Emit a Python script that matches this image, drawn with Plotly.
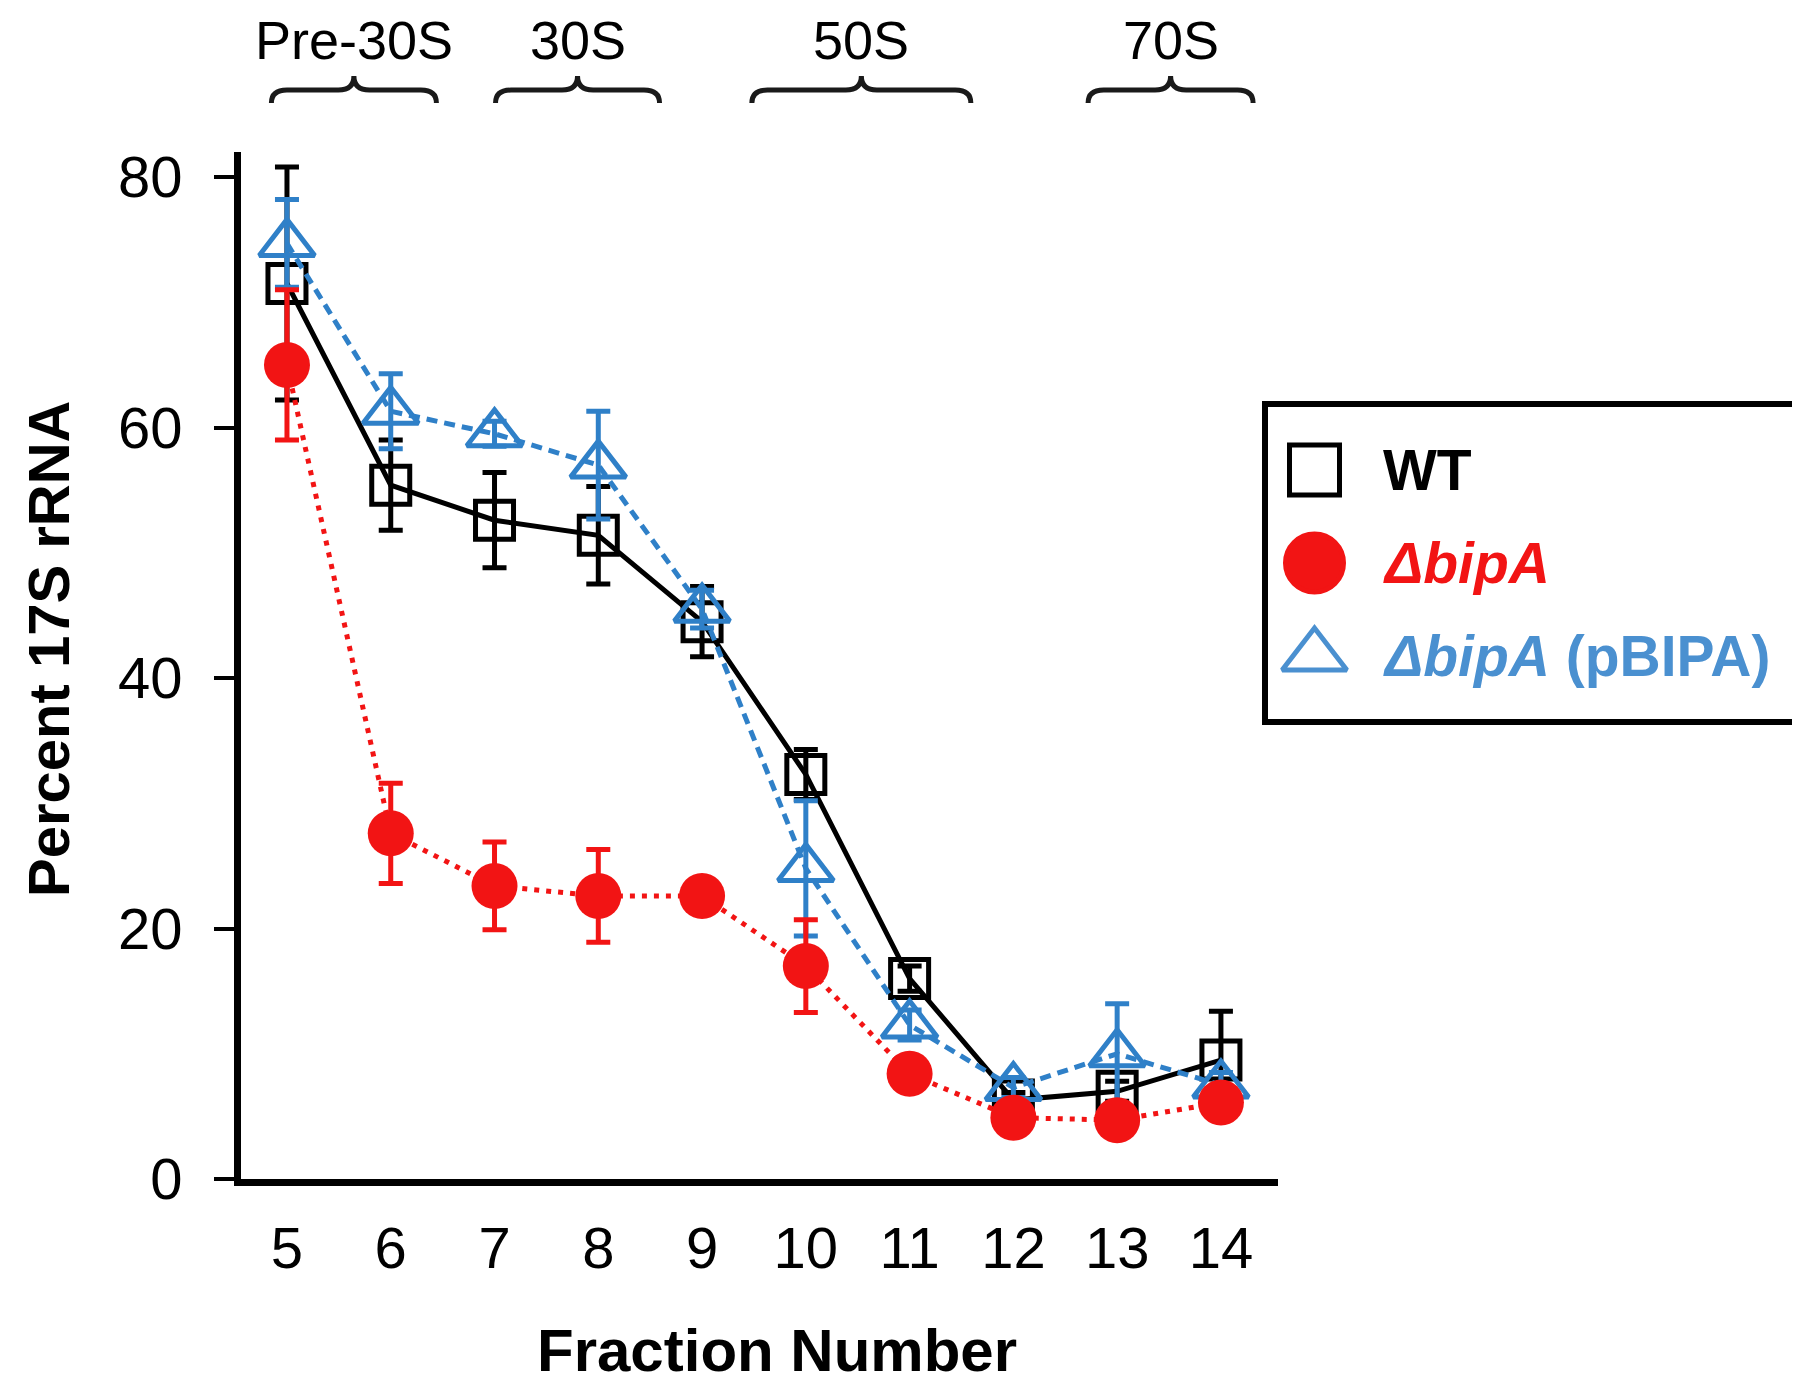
import plotly.graph_objects as go

# fractions on the x axis
fractions = [5, 6, 7, 8, 9, 10, 11, 12, 13, 14]

# percent 17S rRNA per fraction (mean, sd)
wt_vals = [71.5, 55.4, 52.6, 51.4, 44.5, 32.3, 16.0, 6.3, 7.0, 9.5]
wt_err = [9.3, 3.6, 3.8, 3.9, 2.8, 2.0, 1.0, 0.6, 0.8, 3.9]

bipa_vals = [65.0, 27.6, 23.4, 22.6, 22.6, 17.0, 8.4, 4.9, 4.7, 6.1]
bipa_err = [6.0, 4.0, 3.5, 3.7, 0.8, 3.7, 0.9, 0.8, 0.9, 1.0]

pbipa_vals = [74.7, 61.3, 59.5, 57.0, 45.5, 24.8, 12.3, 7.3, 10.0, 7.5]
pbipa_err = [3.5, 3.0, 1.0, 4.3, 1.5, 5.4, 1.2, 0.8, 4.0, 1.0]

# sucrose-gradient regions and the fraction span each brace covers
regions = ["Pre-30S", "30S", "50S", "70S"]
region_start = [4.85, 7.01, 9.48, 12.72]
region_end = [6.44, 8.59, 11.59, 14.31]

y_ticks = [0, 20, 40, 60, 80]

_BLACK = "#000000"
_RED = "#f21414"
_BLUE = "#2f80c8"
_BLUE_TXT = "#4a90d0"
_FONT = "Arial, Liberation Sans, sans-serif"

# targets are given in screenshot pixels; the page adds a vertical offset
OFF_X, OFF_Y = 0, 8
W, H = 1800, 1381
L, R, T, B = 233 - OFF_X, 2, 152 - OFF_Y, 1381 - (1179 - OFF_Y)
PW, PH = W - L - R, H - T - B


def px_x(x):
    return (x - OFF_X - L) / PW


def px_y(y):
    return (H - B - (y - OFF_Y)) / PH


fig = go.Figure()

fig.add_trace(go.Scatter(
    x=fractions, y=wt_vals, mode="lines+markers", name="WT",
    line=dict(color=_BLACK, width=5),
    marker=dict(symbol="square-open", size=38, color=_BLACK, line=dict(width=5, color=_BLACK)),
    error_y=dict(type="data", array=wt_err, color=_BLACK, thickness=5, width=12),
))
fig.add_trace(go.Scatter(
    x=fractions, y=pbipa_vals, mode="lines+markers", name="ΔbipA (pBIPA)",
    line=dict(color=_BLUE, width=5, dash="11px,7px"),
    marker=dict(symbol="triangle-up-open", size=48, color=_BLUE, line=dict(width=5, color=_BLUE)),
    error_y=dict(type="data", array=pbipa_err, color=_BLUE, thickness=5, width=12),
))
fig.add_trace(go.Scatter(
    x=fractions, y=bipa_vals, mode="lines+markers", name="ΔbipA",
    line=dict(color=_RED, width=5, dash="5px,7px"),
    marker=dict(symbol="circle", size=46, color=_RED),
    error_y=dict(type="data", array=bipa_err, color=_RED, thickness=5, width=12),
))

# custom legend: markers on an overlay axis covering the legend box
leg_x0, leg_x1 = px_x(1257), px_x(1795)
leg_y0, leg_y1 = px_y(722), px_y(404)
legend_labels = ["<b>WT</b>", "<b><i>ΔbipA</i></b>", "<b><i>ΔbipA</i> (pBIPA)</b>"]
legend_colors = [_BLACK, _RED, _BLUE_TXT]
leg_h = 722 - 404
legend_rows = [(722 - 470) / leg_h, (722 - 563) / leg_h, (722 - 656) / leg_h]
fig.add_trace(go.Scatter(
    x=[0.092, 0.092, 0.092], y=legend_rows, mode="markers", xaxis="x2", yaxis="y2",
    showlegend=False, hoverinfo="skip",
    marker=dict(
        symbol=["square-open", "circle", "triangle-up-open"],
        size=[50, 58, 56], opacity=1,
        color=[_BLACK, _RED, _BLUE_TXT],
        line=dict(width=5, color=[_BLACK, _RED, _BLUE_TXT]),
    ),
))
for lab, col, ry in zip(legend_labels, legend_colors, legend_rows):
    fig.add_annotation(
        xref="x2", yref="y2", x=0.215, y=ry, text=lab, showarrow=False,
        xanchor="left", yanchor="middle", font=dict(family=_FONT, size=57, color=col),
    )
fig.add_shape(
    type="rect", xref="paper", yref="paper",
    x0=leg_x0, x1=leg_x1, y0=leg_y0, y1=leg_y1,
    line=dict(color=_BLACK, width=6), fillcolor="rgba(0,0,0,0)",
)

# region braces above the plot
y_bar, y_peak, y_end = px_y(90), px_y(76), px_y(103)
for lab, xs, xe in zip(regions, region_start, region_end):
    xm = (xs + xe) / 2
    d = 0.15
    path = (
        f"M{xs},{y_end} Q{xs},{y_bar} {xs + d},{y_bar} "
        f"L{xm - d},{y_bar} Q{xm},{y_bar} {xm},{y_peak} "
        f"Q{xm},{y_bar} {xm + d},{y_bar} "
        f"L{xe - d},{y_bar} Q{xe},{y_bar} {xe},{y_end}"
    )
    fig.add_shape(type="path", xref="x", yref="paper", path=path,
                  line=dict(color="#1a1a1a", width=5))
    fig.add_annotation(
        xref="x", yref="paper", x=xm, y=px_y(40), text=lab, showarrow=False,
        xanchor="center", yanchor="middle", font=dict(family=_FONT, size=54, color=_BLACK),
    )

# axis titles
fig.add_annotation(
    xref="paper", yref="paper", x=px_x(40), y=px_y(649), text="<b>Percent 17S rRNA</b>",
    textangle=-90, showarrow=False, xanchor="center", yanchor="middle",
    font=dict(family=_FONT, size=58, color=_BLACK),
)
fig.add_annotation(
    xref="paper", yref="paper", x=px_x(769), y=px_y(1350), text="<b>Fraction Number</b>",
    showarrow=False, xanchor="center", yanchor="middle",
    font=dict(family=_FONT, size=60, color=_BLACK),
)

fig.update_layout(
    width=W, height=H,
    margin=dict(l=L, r=R, t=T, b=B, pad=0),
    paper_bgcolor="white", plot_bgcolor="white",
    showlegend=False,
    font=dict(family=_FONT, color=_BLACK),
    xaxis=dict(
        domain=[0, px_x(1270)], range=[4.557, 14.55],
        tickvals=fractions, ticktext=[str(f) for f in fractions],
        showgrid=False, zeroline=False, showline=True, linecolor=_BLACK, linewidth=7,
        ticks="", tickfont=dict(size=58), ticklabelstandoff=12,
    ),
    yaxis=dict(
        domain=[0, 1], range=[0, 82],
        tickvals=y_ticks, showgrid=False, zeroline=False,
        showline=True, linecolor=_BLACK, linewidth=7,
        ticks="outside", ticklen=20, tickwidth=4, tickcolor=_BLACK,
        tickfont=dict(size=58), ticklabelstandoff=20,
    ),
    xaxis2=dict(domain=[leg_x0, leg_x1], range=[0, 1], anchor="y2", visible=False),
    yaxis2=dict(domain=[leg_y0, leg_y1], range=[0, 1], anchor="x2", visible=False),
)

fig.write_html("out.html")
